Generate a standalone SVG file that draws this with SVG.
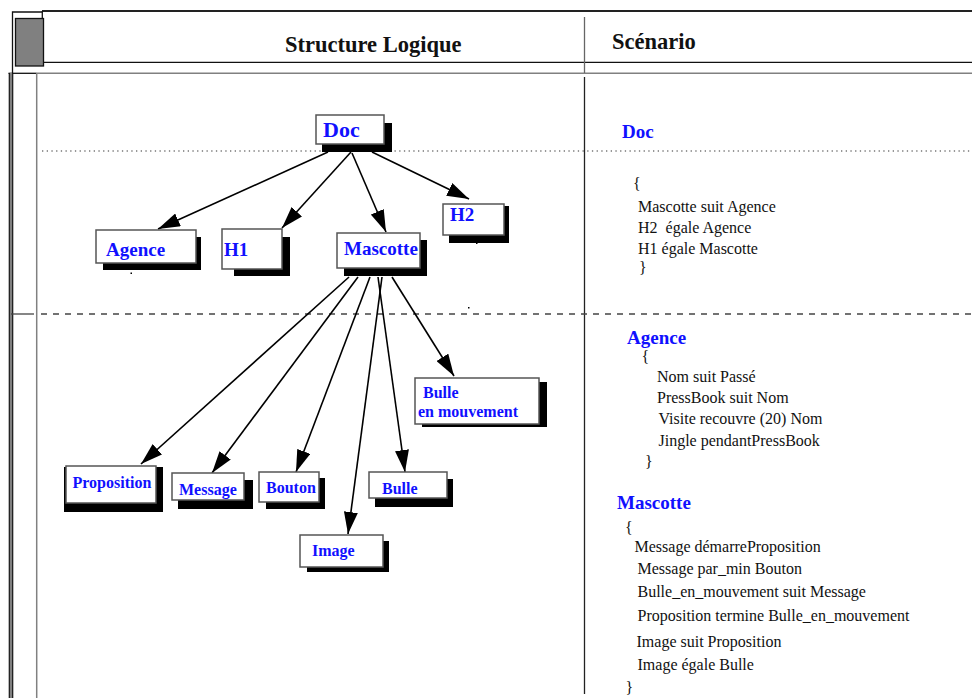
<svg xmlns="http://www.w3.org/2000/svg" width="972" height="698" viewBox="0 0 972 698">
<style>
text{font-family:"Liberation Serif","Times New Roman",serif}
.hd{font-size:22.5px;font-weight:bold;fill:#111}
.n1{font-size:19px;font-weight:bold;fill:#1010ff}
.n2{font-size:16px;font-weight:bold;fill:#1010ff}
.rt{font-size:19px;font-weight:bold;fill:#1010ff}
.sc{font-size:16px;fill:#111}
.box{fill:#fff;stroke:#555;stroke-width:1.5}
.sh{fill:#000}
.ed{stroke:#000;stroke-width:1.6;fill:none;marker-end:url(#ah)}
</style>
<defs>
<marker id="ah" markerUnits="userSpaceOnUse" markerWidth="22" markerHeight="14" refX="22" refY="7" orient="auto">
<path d="M0,0 L22,7 L0,14 Z" fill="#000"/>
</marker>
</defs>
<rect width="972" height="698" fill="#fff"/>
<g id="frame">
<line x1="42" y1="11" x2="972" y2="11" stroke="#222" stroke-width="2"/>
<polyline points="12.5,73 12.5,12 42,12" fill="none" stroke="#111" stroke-width="1.3"/>
<line x1="42.3" y1="11" x2="42.3" y2="18.5" stroke="#111" stroke-width="1.3"/>
<rect x="15.5" y="18.5" width="28" height="47.5" fill="#808080" stroke="#111" stroke-width="1.3"/>
<line x1="43.7" y1="62.3" x2="972" y2="62.3" stroke="#111" stroke-width="1.3"/>
<line x1="36.7" y1="73.3" x2="972" y2="73.3" stroke="#808080" stroke-width="1.5"/>
<line x1="8.5" y1="73.3" x2="36.7" y2="73.3" stroke="#111" stroke-width="1.3"/>
<rect x="9.5" y="73" width="3" height="625" fill="#808080"/>
<line x1="9.3" y1="73" x2="9.3" y2="698" stroke="#111" stroke-width="1.2"/>
<line x1="12.7" y1="73" x2="12.7" y2="698" stroke="#111" stroke-width="1.2"/>
<line x1="36.7" y1="73" x2="36.7" y2="698" stroke="#808080" stroke-width="1.5"/>
<line x1="584.5" y1="17" x2="584.5" y2="73" stroke="#666" stroke-width="1.3"/>
<line x1="584.5" y1="77" x2="584.5" y2="694" stroke="#222" stroke-width="1.3"/>
<line x1="42" y1="151" x2="972" y2="151" stroke="#333" stroke-width="1.2" stroke-dasharray="1.3 3.4"/>
<line x1="11" y1="314" x2="34" y2="314" stroke="#444" stroke-width="1.3"/>
<line x1="41" y1="314" x2="972" y2="314" stroke="#444" stroke-width="1.3" stroke-dasharray="6 6"/>
<rect x="130.5" y="272.5" width="1.5" height="1.5" fill="#000"/>
<rect x="476" y="242.5" width="1.5" height="1.5" fill="#000"/>
<rect x="468" y="307" width="1.5" height="1.5" fill="#000"/>
<text class="hd" x="285" y="52">Structure Logique</text>
<text class="hd" x="612" y="48.5">Scénario</text>
</g>
<g id="connectors">
<line class="ed" x1="328" y1="152" x2="158" y2="229"/>
<line class="ed" x1="351" y1="152" x2="282" y2="228"/>
<line class="ed" x1="352" y1="153" x2="386" y2="232"/>
<line class="ed" x1="372" y1="152" x2="469" y2="199"/>
<line class="ed" x1="349" y1="277" x2="141" y2="464"/>
<line class="ed" x1="358" y1="277" x2="212" y2="473"/>
<line class="ed" x1="370" y1="277" x2="296" y2="472"/>
<line class="ed" x1="382" y1="277" x2="348" y2="534"/>
<line class="ed" x1="378" y1="277" x2="405" y2="472"/>
<line class="ed" x1="392" y1="277" x2="454" y2="376"/>
</g>
<g id="n-doc"><rect class="sh" x="322" y="123" width="70" height="29"/><rect class="box" x="316" y="115" width="68" height="29"/><text class="n1" x="323" y="137" style="font-size:22px">Doc</text></g>
<g id="n-agence"><rect class="sh" x="103" y="237" width="98" height="33"/><rect class="box" x="96" y="230" width="100" height="33"/><text class="n1" x="106" y="256">Agence</text></g>
<g id="n-h1"><rect class="sh" x="234" y="237" width="56" height="39"/><rect class="box" x="222" y="229" width="60" height="40"/><text class="n1" x="224" y="256">H1</text></g>
<g id="n-mascotte"><rect class="sh" x="344" y="240" width="83" height="36"/><rect class="box" x="337" y="233" width="83" height="35"/><text class="n1" x="344" y="254.5">Mascotte</text></g>
<g id="n-h2"><rect class="sh" x="449" y="206" width="60" height="37"/><rect class="box" x="443" y="204" width="61" height="31"/><text class="n1" x="450" y="221">H2</text></g>
<g id="n-proposition"><rect class="sh" x="64" y="467" width="99" height="45"/><rect class="box" x="66" y="466" width="90" height="37"/><text class="n2" x="72.5" y="487.5">Proposition</text></g>
<g id="n-message"><rect class="sh" x="178" y="480" width="75" height="29"/><rect class="box" x="172" y="473" width="72" height="27"/><text class="n2" x="179" y="495">Message</text></g>
<g id="n-bouton"><rect class="sh" x="266" y="478" width="59" height="31"/><rect class="box" x="259" y="472" width="60" height="30"/><text class="n2" x="266" y="493">Bouton</text></g>
<g id="n-bulle"><rect class="sh" x="375" y="479" width="78" height="28"/><rect class="box" x="369" y="472" width="78" height="26"/><text class="n2" x="382" y="494">Bulle</text></g>
<g id="n-image"><rect class="sh" x="307" y="541" width="82" height="31"/><rect class="box" x="300" y="535" width="83" height="32"/><text class="n2" x="312" y="555.5">Image</text></g>
<g id="n-bulle-mvt"><rect class="sh" x="422" y="382" width="125" height="45"/><rect class="box" x="415" y="378" width="124" height="46"/><text class="n2" x="423" y="398">Bulle</text><text class="n2" x="418" y="417"> en mouvement</text></g>
<g id="scenario">
<text class="rt" x="622" y="137.5">Doc</text>
<text class="sc" x="633" y="189">{</text>
<text class="sc" x="638" y="212">Mascotte suit Agence</text>
<text class="sc" x="638" y="233" xml:space="preserve">H2  égale Agence</text>
<text class="sc" x="638" y="254">H1 égale Mascotte</text>
<text class="sc" x="639" y="273">}</text>
<text class="rt" x="627" y="343.5">Agence</text>
<text class="sc" x="641.5" y="361.5">{</text>
<text class="sc" x="657" y="381.5">Nom suit Passé</text>
<text class="sc" x="657" y="402.5">PressBook suit Nom</text>
<text class="sc" x="658.5" y="423.5">Visite recouvre (20) Nom</text>
<text class="sc" x="658.5" y="446">Jingle pendantPressBook</text>
<text class="sc" x="645" y="466.5">}</text>
<text class="rt" x="617" y="508.5">Mascotte</text>
<text class="sc" x="625" y="533">{</text>
<text class="sc" x="634.5" y="552">Message démarreProposition</text>
<text class="sc" x="637.5" y="573.5">Message par_min Bouton</text>
<text class="sc" x="637.5" y="597">Bulle_en_mouvement suit Message</text>
<text class="sc" x="637.5" y="621">Proposition termine Bulle_en_mouvement</text>
<text class="sc" x="636.5" y="647">Image suit Proposition</text>
<text class="sc" x="637.5" y="670">Image égale Bulle</text>
<text class="sc" x="625.5" y="693">}</text>
</g>
</svg>
